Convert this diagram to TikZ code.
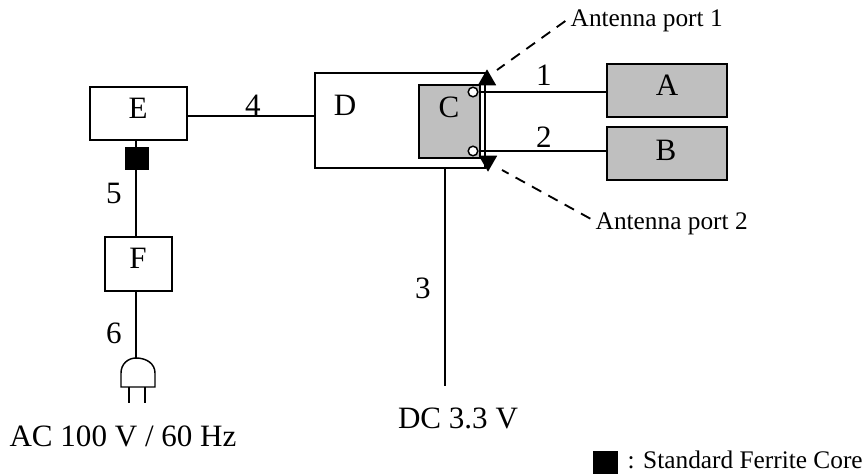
\documentclass[tikz,border=0pt]{standalone}
\usepackage{fontspec}
\setmainfont{Liberation Serif}
\usetikzlibrary{shapes,shapes.geometric,positioning,calc}

\begin{document}
\begin{tikzpicture}[
    x=0.75pt, y=-0.75pt,
    line width=1.1pt,
    every node/.style={font=\fontsize{23.3}{26}\selectfont},
    note/.style={anchor=west, inner sep=0pt, font=\fontsize{19}{22}\selectfont},
    box/.style={rectangle, draw, inner sep=0pt},
    grey/.style={box, fill=black!25},
    port/.style={circle, draw, fill=white, minimum size=7.2pt, inner sep=0pt},
    core/.style={rectangle, fill=black, inner sep=0pt},
    tip/.style={regular polygon, regular polygon sides=3, fill=black, minimum size=16pt, inner sep=0pt},
    connection/.style={draw, line width=1.4pt, dashed, dash pattern=on 8pt off 6pt}
]
\useasboundingbox (0,0) rectangle (866,475);

\begin{scope}
    % Boxes
    \node[box, minimum width=127.5pt, minimum height=71.5pt] (D) at (400,120.5) {};
    \node[grey, minimum width=45.8pt, minimum height=54.8pt] (C) at (449.5,121.5) {};
    \node[grey, minimum width=90pt, minimum height=39.8pt] (A) at (667,90.5) {};
    \node[grey, minimum width=90pt, minimum height=39.8pt] (B) at (667,153.5) {};
    \node[box, minimum width=72.8pt, minimum height=39.8pt] (E) at (138.5,113.5) {};
    \node[box, minimum width=50.2pt, minimum height=40.5pt] (F) at (138.5,264) {};

    % Box names
    \node (Dname) at (345,105) {D};
    \node (Cname) at (449,107) {C};
    \node (Aname) at (667,85) {A};
    \node (Bname) at (666,150) {B};
    \node (Ename) at (138,108) {E};
    \node (Fname) at (138,258) {F};

    % Ports and ferrite
    \node[port] (c1) at (473,92) {};
    \node[port] (c2) at (473,151) {};
    \node[tip] (t1) at (487,80) {};
    \node[tip, shape border rotate=180] (t2) at (488,161) {};
    \node[core, minimum width=18pt, minimum height=17.2pt] (fc) at (137,158.5) {};
    \node[core, minimum width=18.8pt, minimum height=17.2pt] (fk) at (605.5,462.5) {};

    % Free ends
    \coordinate (dc) at (445,386);
    \coordinate (plug) at (136,358);
    \coordinate (d1) at (497,70);
    \coordinate (d2) at (502,170);

    % Texts
    \node[note] (p1) at (570,21) {Antenna port 1};
    \node[note] (p2) at (595,224) {Antenna port 2};
    \node (dctext) at (458,418) {DC 3.3 V};
    \node (actext) at (123,436) {AC 100 V / 60 Hz};
    \node[note] (fctext) at (627,460) {: Standard Ferrite Core};

    \path (c1) edge (c1 -| A.west)
    (c2) edge (c2 -| B.west)
    (dc |- D.south) edge (dc)
    ([yshift=-1.9pt]E.east) edge ([yshift=-1.9pt]E.east -| D.west)
    (plug |- E.south) edge (plug |- F.north)
    (plug |- F.south) edge (plug);

    \node (n1) at (544,75) {1};
    \node (n2) at (544,137) {2};
    \node (n3) at (423,288) {3};
    \node (n4) at (253,105) {4};
    \node (n5) at (114,193) {5};
    \node (n6) at (114,333) {6};

    \path[connection] ([xshift=-3.5pt]p1.west) -- (d1);
    \path[connection] ([shift={(-3.5pt,4pt)}]p2.west) -- (d2);

    % Plug
    \draw (121,387) -- (121,373) .. controls (121,364) and (128,358) .. (plug)
      .. controls (147,358) and (155,364) .. (155,373) -- (155,387) -- cycle;
    \draw (129,387) -- (129,403);
    \draw (145,387) -- (145,403);
\end{scope}
\end{tikzpicture}
\end{document}
